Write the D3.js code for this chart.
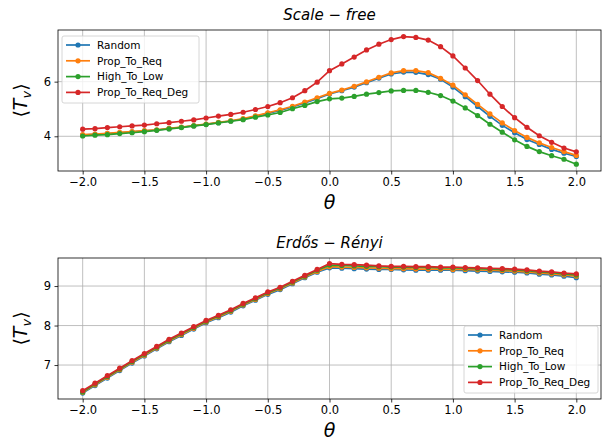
<!DOCTYPE html>
<html>
<head>
<meta charset="utf-8">
<script src="https://cdn.jsdelivr.net/npm/d3@7"></script>
<style>
  body { margin: 0; background: white; }
  text { font-family: "DejaVu Sans", sans-serif; }
</style>
</head>
<body>
<script>
const w = 605
const h = 441

// theta values, -2.0 .. 2.0 step 0.1
const theta = [-2.0, -1.9, -1.8, -1.7, -1.6, -1.5, -1.4, -1.3, -1.2, -1.1, -1.0,
  -0.9, -0.8, -0.7, -0.6, -0.5, -0.4, -0.3, -0.2, -0.1, 0.0,
  0.1, 0.2, 0.3, 0.4, 0.5, 0.6, 0.7, 0.8, 0.9, 1.0,
  1.1, 1.2, 1.3, 1.4, 1.5, 1.6, 1.7, 1.8, 1.9, 2.0]

const seriesNames = ["Random", "Prop_To_Req", "High_To_Low", "Prop_To_Req_Deg"]
const colors = ["#1f77b4", "#ff7f0e", "#2ca02c", "#d62728"]

// Scale-free panel
const sfRandom = [4.04, 4.07, 4.10, 4.13, 4.16, 4.20, 4.23, 4.28, 4.33, 4.38, 4.44,
  4.50, 4.56, 4.63, 4.73, 4.84, 4.95, 5.07, 5.22, 5.38, 5.55,
  5.67, 5.80, 5.96, 6.13, 6.28, 6.35, 6.34, 6.26, 6.09, 5.80,
  5.45, 5.09, 4.73, 4.40, 4.13, 3.88, 3.70, 3.52, 3.38, 3.26]
const sfPropReq = [4.06, 4.08, 4.11, 4.14, 4.17, 4.21, 4.24, 4.29, 4.34, 4.39, 4.45,
  4.51, 4.57, 4.65, 4.75, 4.86, 4.97, 5.10, 5.25, 5.41, 5.57,
  5.69, 5.83, 5.99, 6.16, 6.32, 6.40, 6.40, 6.33, 6.12, 5.87,
  5.52, 5.17, 4.82, 4.49, 4.21, 3.96, 3.76, 3.59, 3.44, 3.30]
const sfHighLow = [4.01, 4.04, 4.06, 4.10, 4.13, 4.17, 4.22, 4.27, 4.32, 4.38, 4.43,
  4.49, 4.55, 4.61, 4.70, 4.78, 4.87, 5.01, 5.13, 5.27, 5.37,
  5.40, 5.46, 5.54, 5.60, 5.66, 5.68, 5.68, 5.61, 5.49, 5.29,
  5.04, 4.76, 4.44, 4.15, 3.87, 3.63, 3.44, 3.29, 3.16, 2.98]
const sfPropReqDeg = [4.26, 4.28, 4.32, 4.35, 4.38, 4.41, 4.46, 4.50, 4.55, 4.60, 4.67,
  4.74, 4.80, 4.88, 4.98, 5.09, 5.23, 5.41, 5.67, 5.98, 6.40,
  6.65, 6.90, 7.16, 7.37, 7.54, 7.65, 7.62, 7.52, 7.28, 6.94,
  6.50, 6.04, 5.54, 5.09, 4.68, 4.33, 4.02, 3.78, 3.57, 3.43]

// Erdos-Renyi panel
const erRandom = [6.29, 6.48, 6.67, 6.86, 7.05, 7.23, 7.41, 7.59, 7.75, 7.91, 8.07,
  8.20, 8.34, 8.50, 8.64, 8.79, 8.91, 9.06, 9.21, 9.35, 9.46,
  9.45, 9.44, 9.43, 9.42, 9.42, 9.41, 9.40, 9.40, 9.40, 9.40,
  9.39, 9.38, 9.37, 9.36, 9.35, 9.33, 9.30, 9.28, 9.25, 9.21]
const erPropReq = [6.31, 6.50, 6.69, 6.88, 7.07, 7.25, 7.43, 7.61, 7.77, 7.93, 8.09,
  8.22, 8.36, 8.52, 8.66, 8.81, 8.93, 9.08, 9.23, 9.37, 9.49,
  9.48, 9.47, 9.46, 9.45, 9.44, 9.44, 9.43, 9.43, 9.43, 9.42,
  9.42, 9.41, 9.40, 9.39, 9.38, 9.36, 9.33, 9.31, 9.28, 9.25]
const erHighLow = [6.32, 6.52, 6.71, 6.90, 7.09, 7.27, 7.45, 7.63, 7.79, 7.95, 8.11,
  8.24, 8.38, 8.54, 8.68, 8.83, 8.95, 9.10, 9.25, 9.40, 9.53,
  9.52, 9.51, 9.50, 9.49, 9.48, 9.48, 9.47, 9.47, 9.46, 9.46,
  9.45, 9.44, 9.43, 9.42, 9.41, 9.39, 9.36, 9.34, 9.31, 9.28]
const erPropReqDeg = [6.35, 6.54, 6.73, 6.92, 7.11, 7.29, 7.47, 7.65, 7.81, 7.97, 8.13,
  8.26, 8.40, 8.56, 8.70, 8.85, 8.97, 9.12, 9.27, 9.42, 9.57,
  9.55, 9.54, 9.53, 9.51, 9.50, 9.50, 9.49, 9.49, 9.48, 9.48,
  9.47, 9.46, 9.45, 9.44, 9.43, 9.41, 9.38, 9.36, 9.33, 9.31]

const xTicks = [-2.0, -1.5, -1.0, -0.5, 0.0, 0.5, 1.0, 1.5, 2.0]
const sfYTicks = [4, 6]
const erYTicks = [7, 8, 9]

const svg = d3.select("body").append("svg")
    .attr("width", w)
    .attr("height", h)

const left = 58, right = 601
const fmtX = d => d3.format(".1f")(d).replace("-", "\u2212")

const drawPanel = (opts) => {
    const { top, bottom, yDomain, yTicks, data, title, legend } = opts
    const x = d3.scaleLinear().domain([-2.2, 2.2]).range([left, right])
    const y = d3.scaleLinear().domain(yDomain).range([bottom, top])
    const g = svg.append("g")

    // grid
    g.selectAll(".gx").data(xTicks).enter().append("line")
        .attr("x1", d => x(d)).attr("x2", d => x(d))
        .attr("y1", top).attr("y2", bottom)
        .attr("stroke", "#b0b0b0").attr("stroke-width", 0.8)
    g.selectAll(".gy").data(yTicks).enter().append("line")
        .attr("x1", left).attr("x2", right)
        .attr("y1", d => y(d)).attr("y2", d => y(d))
        .attr("stroke", "#b0b0b0").attr("stroke-width", 0.8)

    // axes
    const xAxis = g.append("g").attr("transform", `translate(0,${bottom})`)
        .call(d3.axisBottom(x).tickValues(xTicks).tickFormat(fmtX).tickSize(3.5).tickPadding(3.5))
    const yAxis = g.append("g").attr("transform", `translate(${left},0)`)
        .call(d3.axisLeft(y).tickValues(yTicks).tickFormat(d3.format("d")).tickSize(3.5).tickPadding(3.5))
    for (const ax of [xAxis, yAxis]) {
        ax.select(".domain").remove()
        ax.selectAll("text").attr("font-size", "11.5px").attr("fill", "black")
            .attr("font-family", "DejaVu Sans")
        ax.selectAll("line").attr("stroke", "black").attr("stroke-width", 0.8)
    }

    // series
    const line = d3.line().x((d, i) => x(theta[i])).y(d => y(d))
    data.forEach((s, k) => {
        g.append("path").datum(s)
            .attr("d", line)
            .attr("fill", "none")
            .attr("stroke", colors[k])
            .attr("stroke-width", 1.7)
        g.selectAll(".m" + k).data(s).enter().append("circle")
            .attr("cx", (d, i) => x(theta[i]))
            .attr("cy", d => y(d))
            .attr("r", 2.6)
            .attr("fill", colors[k])
    })

    // frame
    g.append("rect")
        .attr("x", left).attr("y", top)
        .attr("width", right - left).attr("height", bottom - top)
        .attr("fill", "none").attr("stroke", "black").attr("stroke-width", 0.8)

    // title
    const t = g.append("text")
        .attr("x", (left + right) / 2).attr("y", top - 10)
        .attr("text-anchor", "middle")
        .attr("font-size", "15px")
    t.append("tspan").attr("font-style", "italic").text(title[0])
    t.append("tspan").text(" \u2212 ")
    t.append("tspan").attr("font-style", "italic").text(title[1])

    // y label
    const yl = g.append("text")
        .attr("transform", `translate(27,${(top + bottom) / 2}) rotate(-90)`)
        .attr("text-anchor", "middle")
        .attr("font-size", "19px")
    yl.append("tspan").text("\u27e8")
    yl.append("tspan").attr("font-style", "italic").text("T")
    yl.append("tspan").attr("font-style", "italic").attr("font-size", "13px").attr("dy", 4).text("v")
    yl.append("tspan").attr("dy", -4).text("\u27e9")

    // x label
    g.append("text")
        .attr("x", (left + right) / 2).attr("y", bottom + 38)
        .attr("text-anchor", "middle")
        .attr("font-size", "19px")
        .attr("font-style", "italic")
        .text("\u03b8")

    // legend
    const lg = g.append("g")
    lg.append("rect")
        .attr("x", legend.x).attr("y", legend.y)
        .attr("width", legend.w).attr("height", 67)
        .attr("rx", 2)
        .attr("fill", "white").attr("fill-opacity", 0.8)
        .attr("stroke", "#cccccc").attr("stroke-width", 0.8)
    seriesNames.forEach((name, k) => {
        const cy = legend.y + 9 + k * 15.8
        lg.append("line")
            .attr("x1", legend.x + 4).attr("x2", legend.x + 28)
            .attr("y1", cy).attr("y2", cy)
            .attr("stroke", colors[k]).attr("stroke-width", 1.7)
        lg.append("circle")
            .attr("cx", legend.x + 16).attr("cy", cy).attr("r", 2.6)
            .attr("fill", colors[k])
        lg.append("text")
            .attr("x", legend.x + 35).attr("y", cy + 3.8)
            .attr("font-size", "10.5px")
            .text(name)
    })
}

drawPanel({
    top: 30, bottom: 171,
    yDomain: [2.73, 7.89], yTicks: sfYTicks,
    data: [sfRandom, sfPropReq, sfHighLow, sfPropReqDeg],
    title: ["Scale", "free"],
    legend: { x: 62, y: 36, w: 137 }
})

drawPanel({
    top: 258, bottom: 399,
    yDomain: [6.14, 9.71], yTicks: erYTicks,
    data: [erRandom, erPropReq, erHighLow, erPropReqDeg],
    title: ["Erdős", "Rényi"],
    legend: { x: 464, y: 326, w: 134 }
})
</script>
</body>
</html>
